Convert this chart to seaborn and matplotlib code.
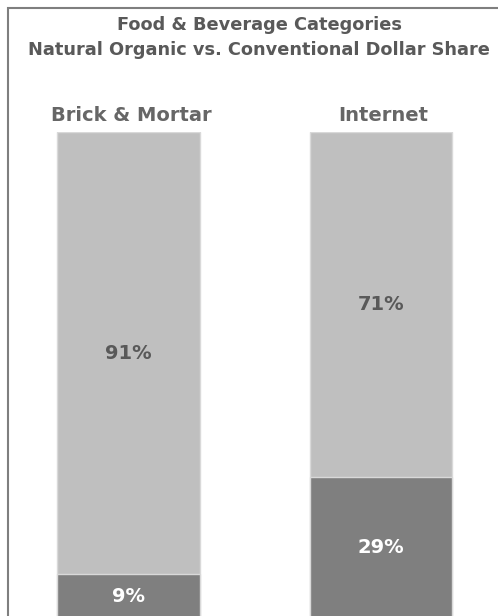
import matplotlib
matplotlib.use("Agg")
import matplotlib.pyplot as plt
from matplotlib.patches import Rectangle
import seaborn as sns
import pandas as pd

channels = ["Brick & Mortar", "Internet"]
organic = [9, 29]
conventional = [91, 71]

title_lines = ["Food & Beverage Categories",
               "Natural Organic vs. Conventional Dollar Share"]

LIGHT = "#bfbfbf"
DARK = "#7f7f7f"
TEXT = "#595959"

sns.set_theme(style="white")
plt.rcParams["font.family"] = ["DejaVu Sans"]

df = pd.DataFrame({"channel": channels,
                   "organic": organic,
                   "conventional": conventional})
df["total"] = df["organic"] + df["conventional"]

W, H = 498, 616
fig = plt.figure(figsize=(W / 100, H / 100), dpi=100)
ax = fig.add_axes([0, -2 / H, 1, 486 / H])

# full-height conventional share, then organic share stacked at the base
sns.barplot(data=df, x="channel", y="total", color=LIGHT, saturation=1,
            width=0.566, edgecolor="#d9d9d9", linewidth=1, ax=ax)
sns.barplot(data=df, x="channel", y="organic", color=DARK, saturation=1,
            width=0.566, edgecolor="#d9d9d9", linewidth=1, ax=ax)

ax.set_xlim(-128.5 / 252.5, (W - 128.5) / 252.5)
ax.set_ylim(0, 100)
ax.axis("off")

for i, (o, c) in enumerate(zip(organic, conventional)):
    ax.text(i, o + c / 2, f"{c}%", ha="center", va="center",
            fontsize=14, fontweight="bold", color=TEXT)
    ax.text(i, o / 2, f"{o}%", ha="center", va="center",
            fontsize=14, fontweight="bold", color="white")
    ax.text(i + 0.01, 103.3, channels[i], ha="center", va="center",
            fontsize=14, fontweight="bold", color="#666666", clip_on=False)

title_x = 259 / W
fig.text(title_x, 1 - 25 / H, title_lines[0], ha="center", va="center",
         fontsize=12.8, fontweight="bold", color=TEXT)
fig.text(title_x, 1 - 50 / H, title_lines[1], ha="center", va="center",
         fontsize=12.8, fontweight="bold", color=TEXT)

# outer frame
fig.patches.append(Rectangle((8 / W, -0.1), 1.2, 1.1 - 8 / H,
                             transform=fig.transFigure, fill=False,
                             edgecolor="#7f7f7f", linewidth=1.5))

fig.savefig("out.png", dpi=100)
